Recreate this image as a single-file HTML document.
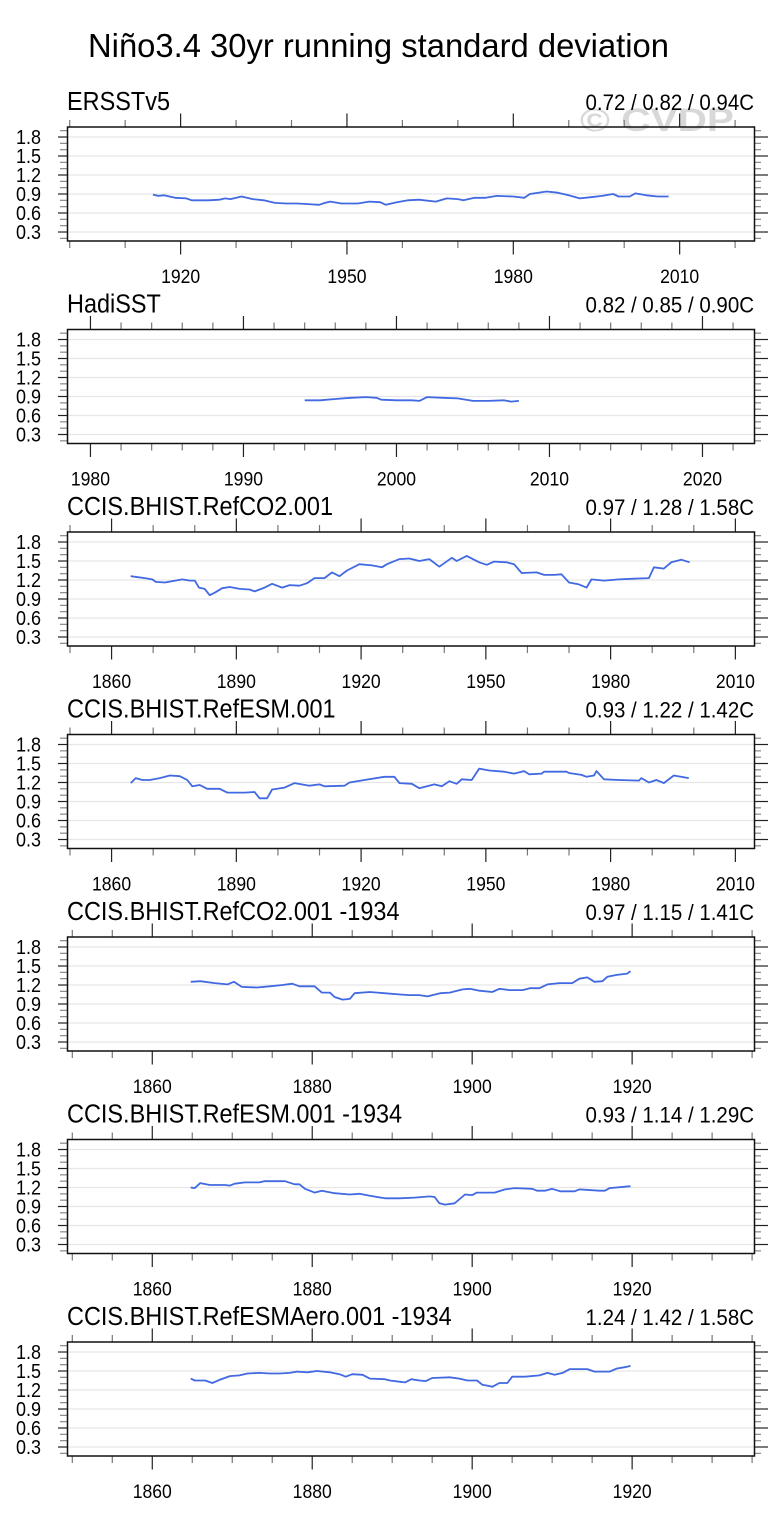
<!DOCTYPE html>
<html><head><meta charset="utf-8"><style>
html,body{margin:0;padding:0;background:#fff;}
svg{display:block;font-family:"Liberation Sans",Arial,sans-serif;}
</style></head><body>
<svg id="chart" width="783" height="1527" viewBox="0 0 783 1527" xmlns="http://www.w3.org/2000/svg">
<text x="88" y="57" font-size="33" textLength="581" lengthAdjust="spacingAndGlyphs">Niño3.4 30yr running standard deviation</text>
<text x="580" y="131" font-size="32" font-weight="bold" fill="#d8d8d8" textLength="154" lengthAdjust="spacingAndGlyphs">© CVDP</text>
<g id="panels"></g>
</svg>
<script>
// ---- data ----
const titles = ["ERSSTv5","HadiSST","CCIS.BHIST.RefCO2.001","CCIS.BHIST.RefESM.001","CCIS.BHIST.RefCO2.001 -1934","CCIS.BHIST.RefESM.001 -1934","CCIS.BHIST.RefESMAero.001 -1934"];
const stats = ["0.72 / 0.82 / 0.94C","0.82 / 0.85 / 0.90C","0.97 / 1.28 / 1.58C","0.93 / 1.22 / 1.42C","0.97 / 1.15 / 1.41C","0.93 / 1.14 / 1.29C","1.24 / 1.42 / 1.58C"];
const yTickLabels = ["0.3","0.6","0.9","1.2","1.5","1.8"];
const yTickValues = [0.3,0.6,0.9,1.2,1.5,1.8];

const ersstYears = [1915,1916,1917,1918,1919,1921,1922,1925,1927,1928,1929,1931,1933,1935,1937,1939,1941,1943,1945,1946,1947,1949,1952,1954,1956,1957,1959,1961,1963,1966,1968,1970,1971,1973,1975,1977,1980,1982,1983,1986,1988,1990,1992,1994,1996,1998,1999,2001,2002,2004,2006,2008];
const ersstValues = [0.89,0.87,0.88,0.86,0.84,0.83,0.80,0.80,0.81,0.83,0.82,0.86,0.82,0.80,0.76,0.75,0.75,0.74,0.73,0.76,0.78,0.75,0.75,0.78,0.77,0.73,0.77,0.80,0.81,0.78,0.83,0.82,0.80,0.84,0.84,0.87,0.86,0.84,0.90,0.94,0.92,0.88,0.83,0.85,0.87,0.90,0.86,0.86,0.91,0.88,0.86,0.86];

const hadYears = [1994,1995,1996,1997,1998,1998.7,1999,2000,2001,2001.5,2002,2003,2004,2005,2006,2007,2007.5,2008];
const hadValues = [0.84,0.84,0.86,0.88,0.89,0.88,0.85,0.84,0.84,0.83,0.89,0.88,0.87,0.83,0.83,0.84,0.82,0.83];

const co2Years = [1864.6,1868,1869.8,1870.6,1872.8,1877,1878.8,1880,1881,1882.4,1883.6,1884.8,1886.6,1888.4,1890.8,1893.2,1894.4,1896.8,1898.6,1901,1902.8,1905.2,1907,1908.8,1911.2,1913,1914.8,1916.6,1919.6,1922.6,1925,1926.2,1929.2,1931.6,1934,1936.4,1938.8,1941.8,1943,1945.4,1948.4,1950.2,1952,1955,1956.8,1958.6,1962.2,1964,1966.4,1968.2,1970,1972.4,1974.2,1975.4,1978.4,1982,1985.6,1989.2,1990.4,1992.8,1994.6,1997,1999];
const co2Values = [1.26,1.23,1.21,1.17,1.16,1.21,1.19,1.19,1.08,1.06,0.96,1.00,1.07,1.09,1.06,1.05,1.02,1.08,1.14,1.08,1.12,1.11,1.15,1.23,1.23,1.32,1.26,1.35,1.45,1.43,1.40,1.45,1.53,1.54,1.50,1.53,1.41,1.55,1.50,1.58,1.48,1.44,1.49,1.48,1.45,1.31,1.32,1.28,1.28,1.29,1.16,1.13,1.08,1.21,1.19,1.21,1.22,1.23,1.40,1.38,1.48,1.52,1.48];

const esmYears = [1864.6,1865.8,1867.4,1869.2,1871.6,1874,1876.4,1878.2,1879.4,1881.2,1883,1886,1887.8,1892,1894.4,1895.6,1897.4,1898.6,1901.6,1904,1907.6,1910,1911.2,1916,1917.2,1920.8,1925.6,1928,1929.2,1932.2,1934,1937.6,1939.4,1941.2,1943,1944.2,1946.6,1948.4,1950.8,1954.4,1956.8,1959.2,1960.4,1963.4,1964,1969.4,1970,1973,1974.2,1976,1976.6,1978.4,1982,1986.8,1987.4,1989.2,1991,1992.8,1995.2,1998.8];
const esmValues = [1.19,1.27,1.24,1.24,1.27,1.31,1.30,1.24,1.14,1.16,1.10,1.10,1.04,1.04,1.05,0.95,0.95,1.09,1.12,1.19,1.15,1.17,1.14,1.15,1.20,1.24,1.29,1.29,1.19,1.18,1.11,1.17,1.14,1.22,1.18,1.25,1.24,1.42,1.39,1.37,1.34,1.38,1.33,1.34,1.37,1.37,1.35,1.32,1.29,1.31,1.38,1.25,1.24,1.23,1.27,1.20,1.24,1.19,1.31,1.27];

const co2bYears = [1864.8,1866,1867.8,1869.4,1870.2,1871.2,1873.1,1874.7,1876.3,1877.5,1878.4,1880.3,1881.2,1882.2,1882.8,1883.8,1884.7,1885.3,1887.2,1889,1891,1892.2,1893.4,1894.4,1896,1897.2,1898.8,1899.7,1900.9,1902.5,1903.4,1904.7,1906.3,1907.2,1908.4,1909.4,1910.9,1912.5,1913.4,1914.4,1915.3,1916.3,1916.9,1918.1,1919.4,1919.8];
const co2bValues = [1.25,1.26,1.23,1.21,1.25,1.17,1.16,1.18,1.20,1.22,1.18,1.18,1.08,1.08,1.01,0.97,0.98,1.07,1.09,1.07,1.05,1.04,1.04,1.02,1.07,1.08,1.13,1.14,1.11,1.09,1.14,1.12,1.12,1.15,1.15,1.21,1.23,1.23,1.30,1.32,1.25,1.26,1.33,1.36,1.38,1.42];

const esmbYears = [1864.8,1865.3,1866,1867.2,1869.1,1869.7,1870.3,1871.6,1873.4,1874,1876.6,1877.8,1878.4,1879.1,1880.3,1881.2,1882.8,1884.7,1885.9,1887.2,1889.1,1890.9,1892.8,1894.7,1895.3,1895.9,1896.6,1897.8,1899.1,1900,1900.6,1902.8,1904.1,1905.3,1907.5,1908.1,1909.1,1910,1911,1912.8,1913.4,1915.9,1916.6,1917.2,1919.8];
const esmbValues = [1.20,1.19,1.27,1.24,1.24,1.23,1.26,1.28,1.28,1.30,1.30,1.25,1.25,1.18,1.12,1.15,1.11,1.09,1.10,1.07,1.03,1.03,1.04,1.06,1.05,0.95,0.93,0.95,1.09,1.08,1.12,1.12,1.17,1.19,1.18,1.15,1.15,1.18,1.14,1.14,1.17,1.15,1.15,1.19,1.22];

const aeroYears = [1864.8,1865.3,1866.6,1867.5,1868.4,1869.7,1870.9,1871.9,1873.4,1874.7,1875.9,1877.2,1878.1,1879.4,1880.6,1882.2,1883.4,1884.2,1885,1886.3,1887.2,1889.1,1889.7,1891,1891.6,1892.4,1893.4,1894.2,1895,1897.2,1898.4,1899.4,1900.6,1901.3,1901.9,1902.5,1903.4,1904.4,1905,1906.6,1908.4,1909.4,1910.3,1911.3,1912.2,1914.4,1915.3,1917.2,1918.1,1919.1,1919.8];
const aeroValues = [1.38,1.35,1.35,1.31,1.36,1.42,1.43,1.46,1.47,1.46,1.46,1.47,1.49,1.48,1.50,1.48,1.45,1.41,1.45,1.44,1.38,1.37,1.35,1.33,1.32,1.37,1.35,1.34,1.39,1.40,1.38,1.35,1.35,1.28,1.27,1.25,1.31,1.31,1.41,1.41,1.43,1.47,1.44,1.47,1.53,1.53,1.49,1.49,1.54,1.56,1.58];

const seriesYears = [ersstYears,hadYears,co2Years,esmYears,co2bYears,esmbYears,aeroYears];
const seriesValues = [ersstValues,hadValues,co2Values,esmValues,co2bValues,esmbValues,aeroValues];

// ---- axis configs (layout) ----
const xAxes = [
 {min:1899.6,max:2023.5,major:[1920,1950,1980,2010],mStart:1900,mEnd:2020,mStep:10},
 {min:1978.5,max:2023.4,major:[1980,1990,2000,2010,2020],mStart:1980,mEnd:2022,mStep:2},
 {min:1849.4,max:2014.6,major:[1860,1890,1920,1950,1980,2010],mStart:1850,mEnd:2010,mStep:10},
 {min:1849.4,max:2014.6,major:[1860,1890,1920,1950,1980,2010],mStart:1850,mEnd:2010,mStep:10},
 {min:1849.4,max:1935.3,major:[1860,1880,1900,1920],mStart:1850,mEnd:1935,mStep:5},
 {min:1849.4,max:1935.3,major:[1860,1880,1900,1920],mStart:1850,mEnd:1935,mStep:5},
 {min:1849.4,max:1935.3,major:[1860,1880,1900,1920],mStart:1850,mEnd:1935,mStep:5}
];
const BX0=67.5, BX1=754.5, BH=114, TOP0=127, STEP=202.5;
const YMIN=0.158, YMAX=1.958;
const NS="http://www.w3.org/2000/svg";
const root=document.getElementById('panels');
function mk(tag,attrs,parent){const e=document.createElementNS(NS,tag);for(const k in attrs)e.setAttribute(k,attrs[k]);(parent||root).appendChild(e);return e;}
const tallTexts=[];

for(let p=0;p<7;p++){
  const top=TOP0+p*STEP, bot=top+BH, ax=xAxes[p];
  const g=mk('g',{});
  
  
  const xs=v=>BX0+(v-ax.min)/(ax.max-ax.min)*(BX1-BX0);
  const ys=v=>bot-(v-YMIN)/(YMAX-YMIN)*BH;
  yTickValues.forEach(v=>{
    const l=mk('line',{x1:BX0,x2:BX1,y1:ys(v),y2:ys(v),stroke:'#e6e6e6','stroke-width':1.2},g);
    
    
  });
  for(let k=2;k<=19;k++){
    const v=k/10, y=ys(v), maj=(k%3===0);
    mk('line',{x1:maj?58:60,x2:BX0,y1:y,y2:y,stroke:maj?'#222':'#888','stroke-width':1.2},g);
    mk('line',{x1:BX1,x2:maj?768:761,y1:y,y2:y,stroke:maj?'#222':'#888','stroke-width':1.2},g);
  }
  yTickLabels.forEach((t,i)=>{
    const tx=mk('text',{x:41,y:ys(yTickValues[i])+7,'font-size':20,'text-anchor':'end'},g);
    tx.textContent=t;
    
    
    tallTexts.push([tx,0.9]);
  });
  for(let v=ax.mStart;v<=ax.mEnd+0.001;v+=ax.mStep){
    const x=xs(v), maj=ax.major.includes(v);
    mk('line',{x1:x,x2:x,y1:bot,y2:bot+(maj?13.5:7),stroke:maj?'#222':'#777','stroke-width':1.2},g);
    mk('line',{x1:x,x2:x,y1:top-(maj?13.5:7),y2:top,stroke:maj?'#222':'#777','stroke-width':1.2},g);
  }
  ax.major.forEach(v=>{
    const tx=mk('text',{x:xs(v),y:bot+42,'font-size':19.5,'text-anchor':'middle'},g);
    tx.textContent=v;
    
    
    tallTexts.push([tx,0.9]);
  });
  const box=mk('rect',{x:BX0,y:top,width:BX1-BX0,height:BH,fill:'none',stroke:'#111','stroke-width':1.5},g);
  
  
  const yr=seriesYears[p], vals=seriesValues[p];
  const d=yr.map((y,i)=>(i?'L':'M')+xs(y).toFixed(1)+' '+ys(vals[i]).toFixed(1)).join(' ');
  const path=mk('path',{d:d,fill:'none',stroke:'#4169e1','stroke-width':1.8,'stroke-linejoin':'round'},g);
  
  
  const tt=mk('text',{x:67,y:top-17,'font-size':25.5},g);
  tt.textContent=titles[p];
  
  
  tallTexts.push([tt,0.92]);
  const st=mk('text',{x:754,y:top-17,'font-size':22.5,'text-anchor':'end'},g);
  st.textContent=stats[p];
  
  
  tallTexts.push([st,0.91]);
}
tallTexts.forEach(([t,f])=>{
  const w=t.getComputedTextLength();
  t.setAttribute('textLength',(w*f).toFixed(1));
  t.setAttribute('lengthAdjust','spacingAndGlyphs');
});
</script>
</body></html>
